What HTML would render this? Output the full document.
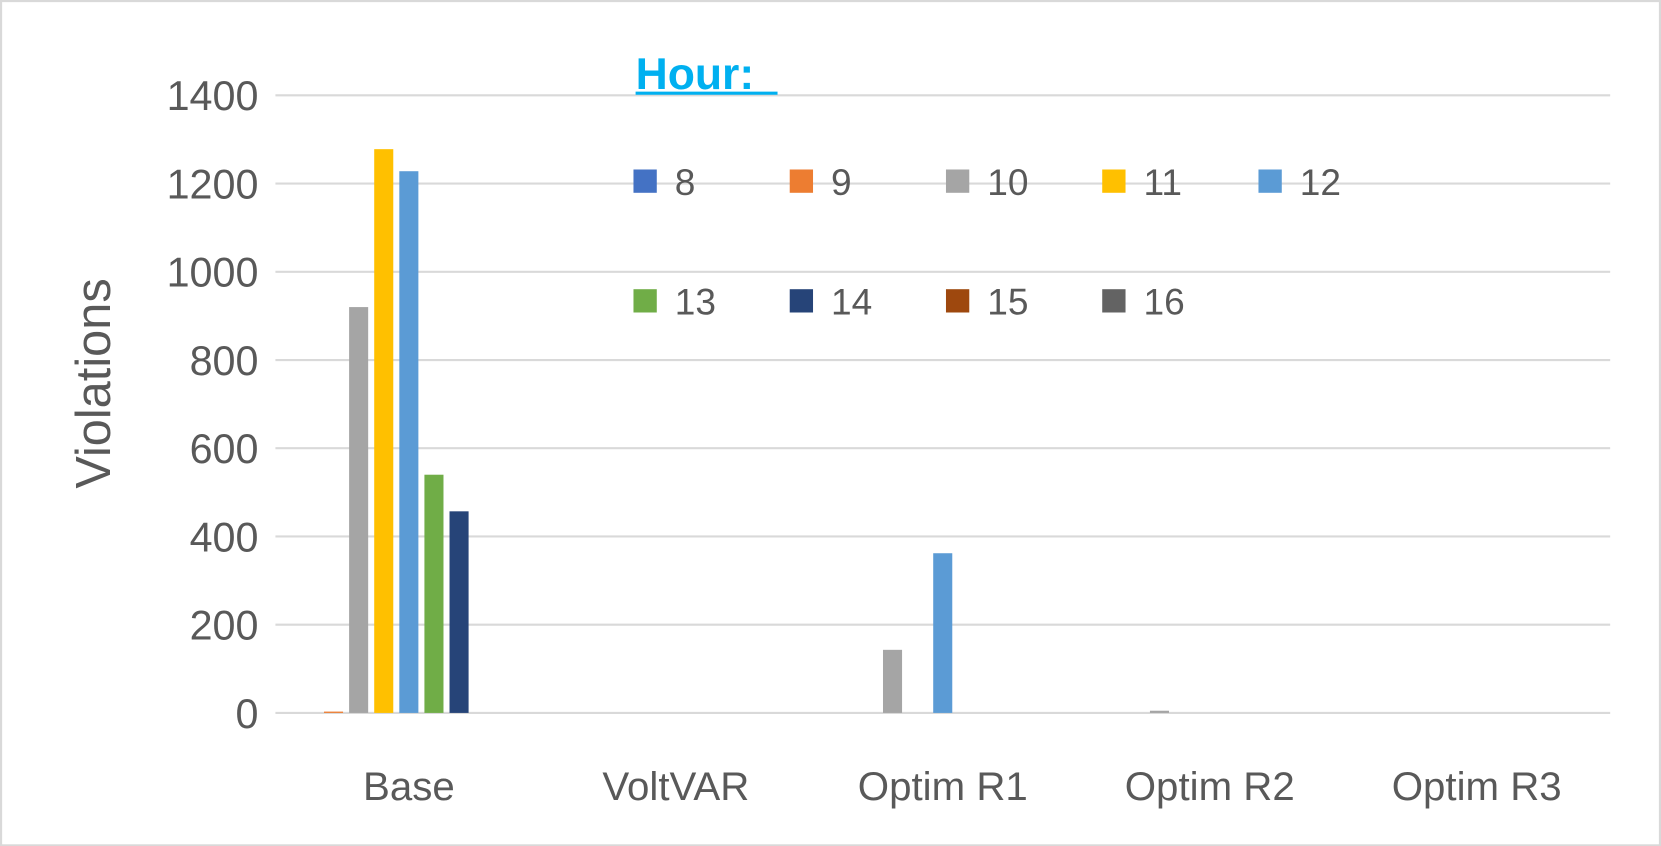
<!DOCTYPE html>
<html><head><meta charset="utf-8"><style>
html,body{margin:0;padding:0;background:#fff;overflow:hidden}
#wrap{width:1568px;height:799px;transform:scale(1.05932);transform-origin:0 0;position:relative}
svg text{font-family:"Liberation Sans",sans-serif;fill:#595959}
</style></head><body>
<div id="wrap">
<svg id="chart" width="1568" height="799">
<rect x="1" y="1" width="1566" height="797" fill="#fff" stroke="#d9d9d9" stroke-width="2"/>
<g id="grid"></g><g id="bars"></g><g id="labels"></g><g id="legend"></g>
<text x="104" y="362" font-size="46" text-anchor="middle" transform="rotate(-90 104 362)">Violations</text>
<text x="600" y="84" font-size="42" font-weight="bold" style="fill:#00b0f0">Hour:</text>
<line x1="600" y1="88" x2="734" y2="88" stroke="#00b0f0" stroke-width="3"/>
</svg></div>
<script>
const categories=["Base","VoltVAR","Optim R1","Optim R2","Optim R3"];
const seriesNames=["8","9","10","11","12","13","14","15","16"];
const seriesColors=["#4472c4","#ed7d31","#a5a5a5","#ffc000","#5b9bd5","#70ad47","#264478","#9e480e","#636363"];
const s8=[0,0,0,0,0];
const s9=[3,0,0,0,0];
const s10=[920,0,143,5,0];
const s11=[1278,0,0,0,0];
const s12=[1228,0,362,0,0];
const s13=[540,0,0,0,0];
const s14=[457,0,0,0,0];
const s15=[0,0,0,0,0];
const s16=[0,0,0,0,0];
const seriesValues=[s8,s9,s10,s11,s12,s13,s14,s15,s16];
const yTicks=[0,200,400,600,800,1000,1200,1400];
const NS="http://www.w3.org/2000/svg";
const X0=260,X1=1520,Y0=673,Y1=90,YMAX=1400;
const y=v=>Y0-(v/YMAX)*(Y0-Y1);
const catW=(X1-X0)/categories.length;
const barW=18,step=23.7;
const barX=(c,s)=>X0+c*catW+(catW-9*step)/2+s*step+2.8;
function mk(tag,attrs,parent){const e=document.createElementNS(NS,tag);for(const k in attrs)e.setAttribute(k,attrs[k]);parent.appendChild(e);return e;}
const grid=document.getElementById('grid'),labels=document.getElementById('labels'),bars=document.getElementById('bars'),legend=document.getElementById('legend');
yTicks.forEach(t=>{
 const l=mk('line',{x1:X0,x2:X1,y1:y(t),y2:y(t),stroke:'#d9d9d9','stroke-width':2},grid);
 
 
 const tx=mk('text',{x:X0-16,y:y(t)+14,'font-size':39,'text-anchor':'end'},labels);
 tx.textContent=t;
 
 
});
categories.forEach((c,i)=>{
 const tx=mk('text',{x:X0+catW*(i+0.5),y:755,'font-size':38,'text-anchor':'middle'},labels);
 tx.textContent=c;
 
 
});
seriesValues.forEach((vals,s)=>{
 vals.forEach((v,c)=>{
  if(v<=0)return;
  const r=mk('rect',{x:barX(c,s),y:y(v),width:barW,height:Y0-y(v),fill:seriesColors[s]},bars);
  
  
 });
});
seriesNames.forEach((n,i)=>{
 const row=Math.floor(i/5),col=i%5;
 const lx=598+col*147.5,ly=171+row*113;
 const g=mk('g',{},legend);
 
 
 mk('rect',{x:lx,y:ly-11,width:22,height:22,fill:seriesColors[i]},g);
 const tx=mk('text',{x:lx+39,y:ly+13,'font-size':35},g);
 tx.textContent=n;
});
</script>
</body></html>
